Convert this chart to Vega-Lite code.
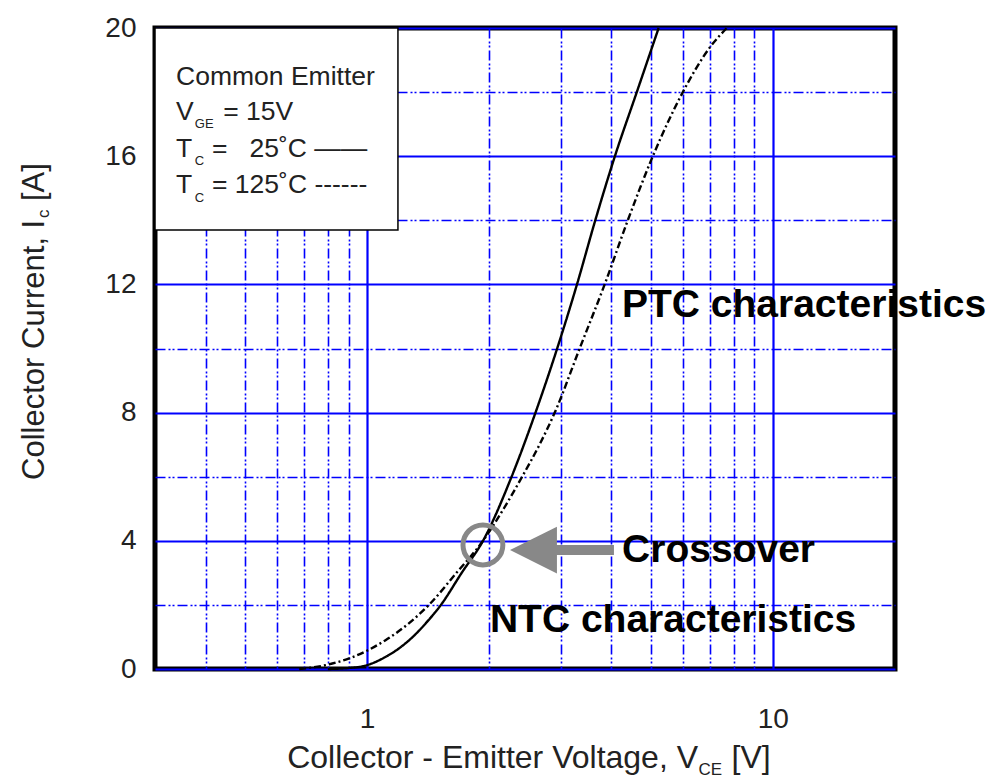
{
  "$schema": "https://vega.github.io/schema/vega-lite/v6.json",
  "width": 740,
  "height": 641,
  "autosize": "none",
  "padding": {"left": 155, "top": 28, "right": 99, "bottom": 109},
  "background": "white",
  "config": {"view": {"stroke": "black", "strokeWidth": 5}, "font": "Liberation Sans"},
  "datasets": {
    "curves": [
      {"V": 0.80, "I": 0.0, "T": "25"}, {"V": 0.90, "I": 0.03, "T": "25"}, {"V": 1.0, "I": 0.12, "T": "25"},
      {"V": 1.1, "I": 0.35, "T": "25"}, {"V": 1.2, "I": 0.65, "T": "25"}, {"V": 1.3, "I": 1.02, "T": "25"},
      {"V": 1.4, "I": 1.45, "T": "25"}, {"V": 1.52, "I": 2.0, "T": "25"}, {"V": 1.71, "I": 3.0, "T": "25"},
      {"V": 1.93, "I": 4.0, "T": "25"}, {"V": 2.27, "I": 6.0, "T": "25"}, {"V": 2.60, "I": 8.0, "T": "25"},
      {"V": 2.94, "I": 10.0, "T": "25"}, {"V": 3.29, "I": 12.0, "T": "25"}, {"V": 3.65, "I": 14.0, "T": "25"},
      {"V": 4.08, "I": 16.0, "T": "25"}, {"V": 4.62, "I": 18.0, "T": "25"}, {"V": 5.23, "I": 20.0, "T": "25"},
      {"V": 0.68, "I": 0.0, "T": "125"}, {"V": 0.79, "I": 0.12, "T": "125"}, {"V": 0.92, "I": 0.37, "T": "125"},
      {"V": 1.11, "I": 0.9, "T": "125"}, {"V": 1.26, "I": 1.4, "T": "125"}, {"V": 1.42, "I": 2.0, "T": "125"},
      {"V": 1.66, "I": 3.0, "T": "125"}, {"V": 1.93, "I": 4.0, "T": "125"}, {"V": 2.17, "I": 5.0, "T": "125"},
      {"V": 2.41, "I": 6.0, "T": "125"}, {"V": 2.66, "I": 7.0, "T": "125"}, {"V": 2.90, "I": 8.0, "T": "125"},
      {"V": 3.34, "I": 10.0, "T": "125"}, {"V": 3.85, "I": 12.0, "T": "125"}, {"V": 4.39, "I": 14.0, "T": "125"},
      {"V": 5.06, "I": 16.0, "T": "125"}, {"V": 6.0, "I": 18.0, "T": "125"}, {"V": 7.0, "I": 19.4, "T": "125"},
      {"V": 7.70, "I": 20.0, "T": "125"}
    ],
    "legendBox": [{"V": 0.3, "V2": 1.191, "I": 13.70, "I2": 20}],
    "legendText": [
      {"V": 0.338, "I": 18.22, "t": "Common Emitter"},
      {"V": 0.338, "I": 17.13, "t": "V"},
      {"V": 0.4417, "I": 17.13, "t": "= 15V"},
      {"V": 0.338, "I": 15.98, "t": "T"},
      {"V": 0.4146, "I": 15.98, "t": "=\u00a0\u00a0\u00a025˚C ——"},
      {"V": 0.338, "I": 14.85, "t": "T"},
      {"V": 0.4146, "I": 14.85, "t": "= 125˚C ------"}
    ],
    "legendSub": [
      {"V": 0.376, "I": 16.88, "t": "GE"},
      {"V": 0.376, "I": 15.73, "t": "C"},
      {"V": 0.376, "I": 14.57, "t": "C"}
    ],
    "notes": [
      {"V": 4.246, "I": 10.98, "t": "PTC characteristics"},
      {"V": 4.25, "I": 3.34, "t": "Crossover"},
      {"V": 2.007, "I": 1.15, "t": "NTC characteristics"}
    ],
    "xTitleMain": [{"V": 6.54, "I": -3.1, "t": "Collector - Emitter Voltage, V"}],
    "xTitleRest": [{"V": 7.91, "I": -3.1, "t": "[V]"}],
    "xTitleSub": [{"V": 6.56, "I": -3.3, "t": "CE"}],
    "yTitle": [
      {"V": 0.1597, "I": 5.90, "t": "Collector Current, I"},
      {"V": 0.1597, "I": 14.60, "t": "[A]"}
    ],
    "yTitleSub": [{"V": 0.1643, "I": 14.07, "t": "c"}],
    "circle": [{"V": 1.929, "I": 3.87}],
    "arrowShaft": [{"V": 2.904, "V2": 4.058, "I": 3.71}],
    "arrowHead": [{"V": 2.57, "I": 3.71}]
  },
  "encoding": {
    "x": {
      "field": "V", "type": "quantitative",
      "scale": {"type": "log", "domain": [0.3, 20], "nice": false},
      "axis": {
        "values": [0.4, 0.5, 0.6, 0.7, 0.8, 0.9, 1, 2, 3, 4, 5, 6, 7, 8, 9, 10],
        "format": "~g",
        "labelExpr": "datum.value == 1 || datum.value == 10 ? datum.label : ''",
        "labelOverlap": false,
        "labelFlush": false,
        "grid": true,
        "gridColor": "#0000ff",
        "gridWidth": {"condition": {"test": "datum.value == 1 || datum.value == 10", "value": 2.2}, "value": 1.6},
        "gridDash": {"condition": {"test": "datum.value == 1 || datum.value == 10", "value": [1, 0]}, "value": [10, 3, 2, 2, 2, 3]},
        "ticks": false,
        "tickSize": 0,
        "domain": false,
        "labelFontSize": 28,
        "labelColor": "#222",
        "labelPadding": 36,
        "title": null
      }
    },
    "y": {
      "field": "I", "type": "quantitative",
      "scale": {"domain": [0, 20], "nice": false, "zero": false},
      "axis": {
        "values": [0, 2, 4, 6, 8, 10, 12, 14, 16, 18, 20],
        "labelExpr": "datum.value % 4 == 0 ? datum.label : ''",
        "labelOverlap": false,
        "labelFlush": false,
        "grid": true,
        "gridColor": "#0000ff",
        "gridWidth": {"condition": {"test": "datum.value % 4 == 0", "value": 2.2}, "value": 1.6},
        "gridDash": {"condition": {"test": "datum.value % 4 == 0", "value": [1, 0]}, "value": [10, 3, 2, 2, 2, 3]},
        "ticks": false,
        "tickSize": 0,
        "domain": false,
        "labelFontSize": 28,
        "labelColor": "#222",
        "labelPadding": 19,
        "title": null
      }
    }
  },
  "layer": [
    {
      "data": {"name": "curves"},
      "mark": {"type": "line", "interpolate": "monotone", "color": "black", "strokeWidth": 2.4},
      "encoding": {
        "detail": {"field": "T"},
        "strokeDash": {
          "field": "T", "type": "nominal",
          "scale": {"domain": ["25", "125"], "range": [[1, 0], [7, 3, 2, 3]]},
          "legend": null
        }
      }
    },
    {
      "data": {"name": "legendBox"},
      "mark": {"type": "rect", "fill": "white", "stroke": "black", "strokeWidth": 1.5},
      "encoding": {
        "x2": {"field": "V2"},
        "y2": {"field": "I2"}
      }
    },
    {
      "data": {"name": "legendText"},
      "mark": {"type": "text", "align": "left", "baseline": "alphabetic", "fontSize": 26.5, "color": "#222"},
      "encoding": {"text": {"field": "t"}}
    },
    {
      "data": {"name": "legendSub"},
      "mark": {"type": "text", "align": "left", "baseline": "alphabetic", "fontSize": 13, "color": "#222"},
      "encoding": {"text": {"field": "t"}}
    },
    {
      "data": {"name": "circle"},
      "mark": {"type": "point", "shape": "circle", "filled": false, "size": 1590, "stroke": "#888888", "strokeWidth": 5, "opacity": 1}
    },
    {
      "data": {"name": "arrowShaft"},
      "mark": {"type": "rule", "color": "#888888", "strokeWidth": 10, "strokeCap": "butt"},
      "encoding": {"x2": {"field": "V2"}}
    },
    {
      "data": {"name": "arrowHead"},
      "mark": {"type": "point", "shape": "M-1,0L1,-1L1,1Z", "filled": true, "size": 2200, "color": "#888888", "opacity": 1}
    },
    {
      "data": {"name": "notes"},
      "mark": {"type": "text", "align": "left", "baseline": "alphabetic", "fontSize": 39, "fontWeight": "bold", "color": "black"},
      "encoding": {"text": {"field": "t"}}
    },
    {
      "data": {"name": "xTitleMain"},
      "mark": {"type": "text", "align": "right", "baseline": "alphabetic", "fontSize": 32, "color": "#222"},
      "encoding": {"text": {"field": "t"}}
    },
    {
      "data": {"name": "xTitleRest"},
      "mark": {"type": "text", "align": "left", "baseline": "alphabetic", "fontSize": 32, "color": "#222"},
      "encoding": {"text": {"field": "t"}}
    },
    {
      "data": {"name": "xTitleSub"},
      "mark": {"type": "text", "align": "left", "baseline": "alphabetic", "fontSize": 17, "color": "#222"},
      "encoding": {"text": {"field": "t"}}
    },
    {
      "data": {"name": "yTitle"},
      "mark": {"type": "text", "align": "left", "baseline": "alphabetic", "angle": 270, "fontSize": 31, "color": "#222"},
      "encoding": {"text": {"field": "t"}}
    },
    {
      "data": {"name": "yTitleSub"},
      "mark": {"type": "text", "align": "left", "baseline": "alphabetic", "angle": 270, "fontSize": 17, "color": "#222"},
      "encoding": {"text": {"field": "t"}}
    }
  ]
}
